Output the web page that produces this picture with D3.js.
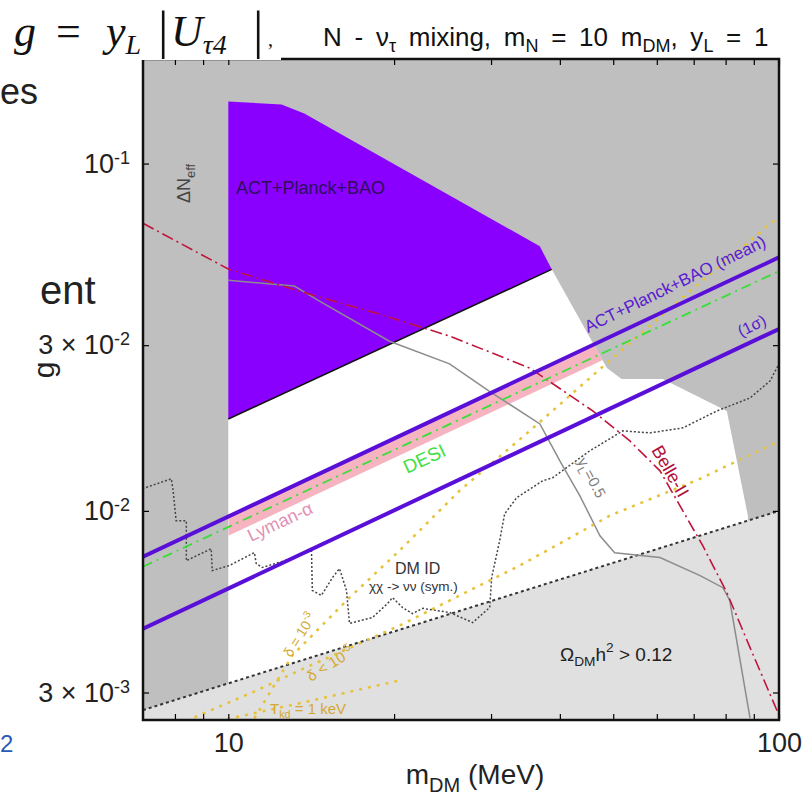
<!DOCTYPE html>
<html lang="en">
<head>
  <meta charset="UTF-8">
  <title>N - nu_tau mixing</title>
  <style>
    body { margin: 0; background: #fff; }
    svg text { font-family: "Liberation Sans", Arial, sans-serif; }
  </style>
</head>
<body>
  <svg id="svg" width="812" height="798"></svg>

  <script src="https://d3js.org/d3.v7.min.js"></script>
  <script>
    // axes
    const xDomain = [7, 100]
    const yDomain = [0.0025, 0.2]
    const xTickValues = [8, 9, 10, 20, 30, 40, 50, 60, 70, 80, 90, 100]
    const xTickLabels = { 10: "10", 100: "100" }
    const yTickValues = [0.1, 0.03, 0.01, 0.003]
    const yTickLabels = [["", "10", "-1"], ["3 \u00d7 ", "10", "-2"], ["", "10", "-2"], ["3 \u00d7 ", "10", "-3"]]

    // regions  [m_DM (MeV), g]
    const allowedRegion = [[10, 0.0025], [10, 0.01839], [38.66, 0.0496], [48.7, 0.02579], [51.8, 0.02398],
      [61.5, 0.02398], [80.4, 0.0194], [87.8, 0.00968], [87.8, 0.0025]]
    const actRegion = [[10, 0.1509], [12.49, 0.1479], [13.74, 0.1393], [36.78, 0.0578], [38.66, 0.0496], [10, 0.01839]]
    const actEdge = [[10, 0.01839], [38.66, 0.0496]]
    const relicLine = [[7, 0.00267], [100, 0.0100]]

    // cosmology lines
    const meanLine = [[7, 0.00738], [100, 0.0537]]
    const sigmaLine = [[7, 0.00458], [100, 0.0334]]
    const desiLine = [[7, 0.00691], [100, 0.0490]]
    const lymanBand = [[10, 0.00966, 0.00848], [100, 0.0537, 0.0471]]

    const belleLine = [[7, 0.0673], [10, 0.0497], [13.46, 0.0429], [18.81, 0.03685], [25.22, 0.03187], [35.26, 0.02579],
      [45.9, 0.0194], [53.6, 0.0159], [60.8, 0.01304], [66.9, 0.0100], [72.7, 0.00794], [80.4, 0.00582],
      [88.6, 0.00404], [100, 0.00258]]

    const yL05Line = [[10, 0.0461], [13.18, 0.0444], [14.64, 0.0402], [19.62, 0.0308], [25.22, 0.0265], [29.8, 0.0221],
      [36.8, 0.0178], [40.0, 0.01393], [43.5, 0.01105], [47.3, 0.00848], [50.3, 0.00758], [60.8, 0.00734],
      [71.9, 0.00651], [79.1, 0.00601], [81.4, 0.00552], [88.6, 0.00253]]

    const dmIdLine = [[6.98, 0.01158], [7.88, 0.01237], [7.94, 0.01143], [8.04, 0.00937], [8.39, 0.00937], [8.39, 0.00719],
      [9.31, 0.00778], [9.35, 0.00673], [10.04, 0.00696], [11.15, 0.00758], [11.24, 0.00705], [11.53, 0.00687],
      [13.02, 0.00729], [14.16, 0.00768], [14.21, 0.00590], [14.76, 0.00571], [15.46, 0.00643], [15.92, 0.00682],
      [16.39, 0.00590], [16.60, 0.00474], [18.27, 0.00493], [19.46, 0.00541], [19.87, 0.00563], [20.72, 0.00527],
      [21.61, 0.00506], [22.53, 0.00524], [25.22, 0.00510], [27.78, 0.00477], [29.83, 0.00527], [30.08, 0.00643],
      [31.10, 0.00821], [31.76, 0.00981], [33.39, 0.01091], [37.23, 0.01221], [38.82, 0.01246], [45.33, 0.01489],
      [52.04, 0.01700], [58.28, 0.01677], [66.92, 0.01734], [77.14, 0.01940], [88.58, 0.02114], [96.30, 0.02366],
      [100, 0.02648]]

    const delta3Line = [[11.15, 0.002528], [13.07, 0.003836], [16.60, 0.005627], [20.46, 0.007684], [26.30, 0.01143],
      [35.26, 0.01699], [48.69, 0.02665], [68.9, 0.04291], [100, 0.07048]]
    const delta5Line = [[8.68, 0.002545], [11.06, 0.003003], [13.46, 0.003472], [20.46, 0.004677], [26.30, 0.005705],
      [33.82, 0.006957], [49.28, 0.009685], [71.85, 0.01237], [100, 0.0159]]
    const tkdLine = [[9.96, 0.002517], [13.46, 0.002792], [20.46, 0.003251]]

    const pLeft = 143, pRight = 779, pTop = 59, pBottom = 720

    const x = d3.scaleLog().domain(xDomain).range([pLeft, pRight])
    const y = d3.scaleLog().domain(yDomain).range([pBottom, pTop])
    const line = d3.line().x(d => x(d[0])).y(d => y(d[1]))

    const svg = d3.select("#svg")

    svg.append("defs").append("clipPath").attr("id", "plotClip")
      .append("rect").attr("x", pLeft).attr("y", pTop).attr("width", pRight - pLeft).attr("height", pBottom - pTop)
    svg.select("defs").append("clipPath").attr("id", "allowedClip")
      .append("path").attr("d", line(allowedRegion) + "Z")

    const plot = svg.append("g").attr("clip-path", "url(#plotClip)")

    // excluded background
    plot.append("rect").attr("x", pLeft).attr("y", pTop).attr("width", pRight - pLeft).attr("height", pBottom - pTop)
      .attr("fill", "#bfbfbf")

    plot.append("path").attr("d", line(allowedRegion) + "Z").attr("fill", "#ffffff")

    const band = d3.area().x(d => x(d[0])).y0(d => y(d[2])).y1(d => y(d[1]))
    plot.append("path").attr("d", band(lymanBand)).attr("fill", "#f6b4c0").attr("clip-path", "url(#allowedClip)")

    plot.append("path").attr("d", line(actRegion) + "Z").attr("fill", "#8a00ff")
    plot.append("path").attr("d", line(actEdge)).attr("stroke", "#111").attr("stroke-width", 1.5).attr("fill", "none")

    const relicArea = relicLine.concat([[100, yDomain[0]], [7, yDomain[0]]])
    plot.append("path").attr("d", line(relicArea) + "Z").attr("fill", "#e0e0e0")

    // curves
    const curves = [
      { data: relicLine, color: "#333", width: 2, dash: "3,3" },
      { data: dmIdLine, color: "#444", width: 1.5, dash: "2,2" },
      { data: yL05Line, color: "#8c8c8c", width: 1.5, dash: null },
      { data: delta3Line, color: "#e6c23a", width: 2.5, dash: "3,6" },
      { data: delta5Line, color: "#e6c23a", width: 2.5, dash: "3,6" },
      { data: tkdLine, color: "#e6c23a", width: 2.5, dash: "3,6" },
      { data: belleLine, color: "#c0143c", width: 1.6, dash: "12,4,2,4" },
      { data: desiLine, color: "#3ade3a", width: 1.8, dash: "10,5,2,5" },
      { data: meanLine, color: "#5a0fd8", width: 4, dash: null },
      { data: sigmaLine, color: "#5a0fd8", width: 4, dash: null }
    ]
    plot.selectAll("path.curve")
      .data(curves)
      .enter()
      .append("path")
      .attr("class", "curve")
      .attr("d", d => line(d.data))
      .attr("fill", "none")
      .attr("stroke", d => d.color)
      .attr("stroke-width", d => d.width)
      .attr("stroke-dasharray", d => d.dash)

    // labels inside the plot
    const lab = (tx, ty, rot, size, color, parts) => {
      const t = svg.append("text")
        .attr("transform", `translate(${tx},${ty}) rotate(${rot})`)
        .attr("font-size", size).attr("fill", color)
      parts.forEach(p => {
        const s = t.append("tspan").text(p[0])
        if (p[1] === "sub") s.attr("font-size", size * 0.72).attr("dy", size * 0.28)
        if (p[1] === "sup") s.attr("font-size", size * 0.72).attr("dy", -size * 0.45)
        if (p[1] === "back") s.attr("dy", p[2])
      })
      return t
    }
    lab(236, 194, 0, 18, "#2e0f5e", [["ACT+Planck+BAO"]])
    lab(190, 203, -90, 18, "#444", [["\u0394N"], ["eff", "sub"]])
    lab(588, 333, -26, 17, "#5a1ad0", [["ACT+Planck+BAO (mean)"]])
    lab(741, 337, -26, 16, "#5a1ad0", [["(1\u03c3)"]])
    lab(407, 474, -25, 19, "#44e044", [["DESI"]])
    lab(251, 542, -25, 18, "#e290b4", [["Lyman-\u03b1"]])
    lab(651, 450, 60, 18, "#b0103a", [["Belle-II"]])
    lab(577, 461, 62, 15, "#808080", [["y"], ["L", "sub"], ["=0.5", "back", -15 * 0.28]])
    lab(395, 574, 0, 16, "#333", [["DM ID"]])
    lab(369, 591, 0, 13.5, "#333", [["\u03c7\u03c7 -> \u03bd\u03bd (sym.)"]])
    lab(560, 661, 0, 19, "#222", [["\u03a9"], ["DM", "sub"], ["h", "back", -19 * 0.28], ["2", "sup"], [" > 0.12", "back", 19 * 0.45]])
    lab(291, 658, -58, 14, "#d4a830", [["\u03b4 = 10"], ["-3", "sup"]])
    lab(311, 682, -32, 15, "#d4a830", [["\u03b4 < 10"], ["-5", "sup"]])
    lab(270, 714, 0, 15, "#d4a830", [["T"], ["kd", "sub"], [" = 1 keV", "back", -15 * 0.28]])

    // axes with inward ticks
    const fixAxis = g => {
      g.select(".domain").remove()
      g.selectAll(".tick line").attr("stroke", "#000").attr("stroke-width", 1.2)
      g.selectAll("text").attr("font-size", 27).attr("fill", "#222")
    }
    svg.append("g").attr("transform", `translate(0,${pBottom})`)
      .call(d3.axisBottom(x).tickValues(xTickValues).tickSize(-6).tickPadding(13).tickFormat(d => xTickLabels[d] || ""))
      .call(fixAxis)
    svg.append("g").attr("transform", `translate(0,${pTop})`)
      .call(d3.axisTop(x).tickValues(xTickValues).tickSize(-6).tickFormat(""))
      .call(fixAxis)
    svg.append("g").attr("transform", `translate(${pRight},0)`)
      .call(d3.axisRight(y).tickValues(yTickValues).tickSize(-6).tickFormat(""))
      .call(fixAxis)
    svg.append("g").attr("transform", `translate(${pLeft},0)`)
      .call(d3.axisLeft(y).tickValues(yTickValues).tickSize(-6).tickPadding(13))
      .call(fixAxis)
      .selectAll(".tick text")
      .each(function (d, i) {
        const t = d3.select(this).text(null)
        const l = yTickLabels[i]
        t.append("tspan").text(l[0] + l[1])
        t.append("tspan").attr("dy", "-0.5em").attr("font-size", 18).text(l[2])
      })

    svg.append("rect").attr("x", pLeft).attr("y", pTop).attr("width", pRight - pLeft).attr("height", pBottom - pTop)
      .attr("fill", "none").attr("stroke", "#111").attr("stroke-width", 2.5)

    // axis titles
    const xt = svg.append("text").attr("x", 475).attr("y", 784).attr("text-anchor", "middle")
      .attr("font-size", 28).attr("fill", "#222")
    xt.append("tspan").text("m")
    xt.append("tspan").attr("font-size", 20).attr("dy", 8).text("DM")
    xt.append("tspan").attr("dy", -8).text("  (MeV)")
    svg.append("text").attr("transform", "translate(54,370) rotate(-90)").attr("text-anchor", "middle")
      .attr("font-size", 30).attr("fill", "#222").text("g")

    // title
    const tt = svg.append("text").attr("x", 323).attr("y", 46).attr("font-size", 26).attr("fill", "#111")
      .style("word-spacing", "5.5px")
    const ttParts = [["N - \u03bd", 0], ["\u03c4", 1], ["  mixing, m", 0], ["N", 1], [" = 10 m", 0], ["DM", 1], [",  y", 0], ["L", 1], [" = 1", 0]]
    let shifted = false
    ttParts.forEach(p => {
      const s = tt.append("tspan").text(p[0])
      if (p[1]) { s.attr("font-size", 18).attr("dy", 6); shifted = true }
      else if (shifted) { s.attr("dy", -6); shifted = false }
    })

    // formula box on top-left
    svg.append("rect").attr("x", 0).attr("y", 0).attr("width", 281).attr("height", 60).attr("fill", "#fff")
    const fm = svg.append("text").attr("y", 46).style("font-family", "'Liberation Serif', 'DejaVu Serif', serif")
      .attr("font-size", 44).attr("fill", "#111")
    fm.append("tspan").attr("x", 14).attr("font-style", "italic").text("g")
    fm.append("tspan").attr("x", 56).text("=")
    fm.append("tspan").attr("x", 106).attr("font-style", "italic").text("y")
    fm.append("tspan").attr("font-style", "italic").attr("font-size", 28).attr("dy", 8).text("L")
    fm.append("tspan").attr("x", 158).attr("dy", -6).attr("font-size", 52).text("|")
    fm.append("tspan").attr("x", 171).attr("dy", -2).attr("font-style", "italic").text("U")
    fm.append("tspan").attr("font-style", "italic").attr("font-size", 28).attr("dy", 8).text("\u03c44")
    fm.append("tspan").attr("x", 253).attr("dy", -6).attr("font-size", 52).text("|")
    fm.append("tspan").attr("x", 268).attr("dy", -2).attr("font-size", 20).text(",")

    // slide text around the figure
    svg.append("text").attr("x", 0).attr("y", 104).attr("font-size", 36).attr("fill", "#222").text("es")
    svg.append("text").attr("x", 40).attr("y", 304).attr("font-size", 40).attr("fill", "#222").text("ent")
    svg.append("text").attr("x", 0).attr("y", 752).attr("font-size", 24).attr("fill", "#2a5ab8").text("2")
  </script>
</body>
</html>
